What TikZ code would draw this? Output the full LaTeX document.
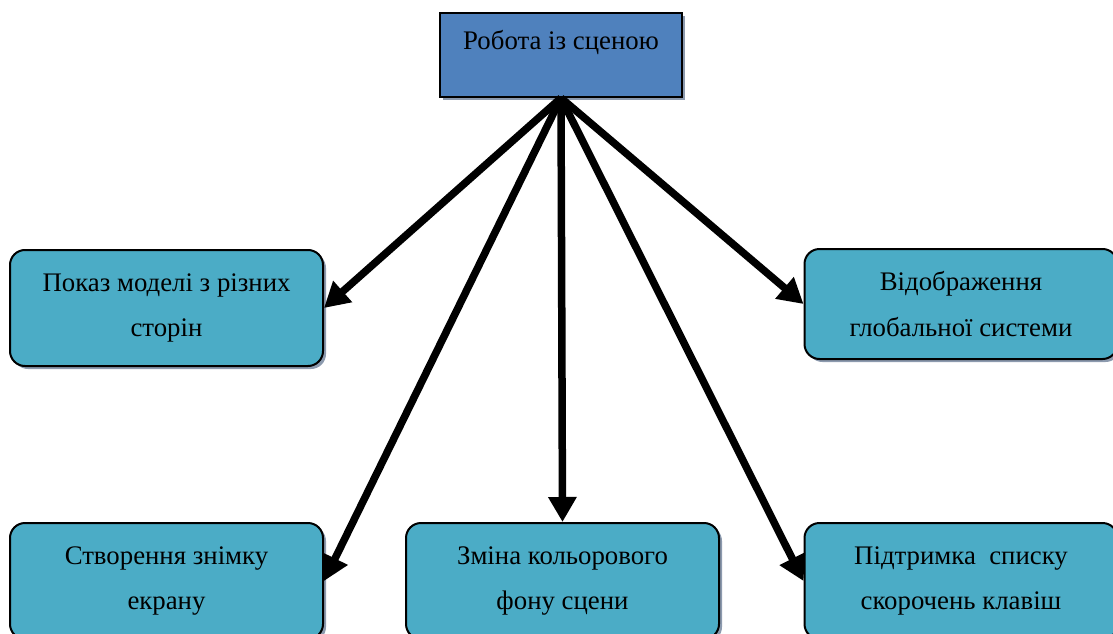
\documentclass[tikz,border=0pt]{standalone}
\usepackage{fontspec}
\setmainfont{Liberation Serif}
\usetikzlibrary{arrows.meta,shadows}
\definecolor{topblue}{HTML}{4F81BD}
\definecolor{boxcyan}{HTML}{4BACC6}
\definecolor{shadowgray}{HTML}{8C9AAE}
\tikzset{
  topbox/.style={draw=black, line width=2pt, fill=topblue,
    minimum width=242pt, minimum height=84pt, inner sep=0pt,
    drop shadow={shadow xshift=3pt, shadow yshift=-3pt, fill=shadowgray, opacity=1}},
  subbox/.style={draw=black, line width=2pt, fill=boxcyan, rounded corners=15pt,
    minimum width=313pt, minimum height=116pt, inner sep=0pt, align=center,
    font=\fontsize{26.8}{45.5}\selectfont,
    drop shadow={shadow xshift=3pt, shadow yshift=-3pt, fill=shadowgray, opacity=1}},
  caption/.style={font=\fontsize{26.8}{30}\selectfont, inner sep=0pt},
  link/.style={line width=7.5pt, -{Triangle[length=25pt,width=27pt]}}
}
\begin{document}
\begin{tikzpicture}[x=1pt,y=-1pt]
  \useasboundingbox (0,0) rectangle (1113,634);
  \clip (0,0) rectangle (1113,634);
  % root box
  \node[topbox] (root) at (561,55) {};
  \node[caption] (rootlabel) at (561,42) {Робота із сценою};
  % child boxes
  \node[subbox] (views) at (166.5,308) {Показ моделі з різних\\сторін};
  \node[subbox, minimum height=110pt] (globe) at (961,304) {Відображення\\глобальної системи};
  \node[subbox] (shot) at (166.5,581) {Створення знімку\\екрану};
  \node[subbox] (bg) at (562.5,581) {Зміна кольорового\\фону сцени};
  \node[subbox] (keys) at (961,581) {Підтримка~ списку\\скорочень клавіш};
  % connectors
  \draw[link] (root.south) -- (views.east);
  \draw[link] (root.south) -- (globe.west);
  \draw[link] (root.south) -- (shot.east);
  \draw[link] (root.south) -- (bg.north);
  \draw[link] (root.south) -- (keys.west);
\end{tikzpicture}
\end{document}
